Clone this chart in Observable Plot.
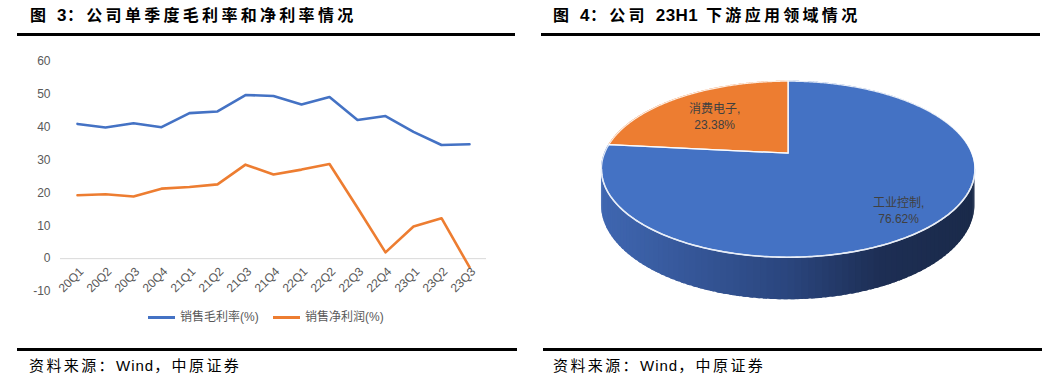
<!DOCTYPE html>
<html><head><meta charset="utf-8">
<script src="https://cdn.jsdelivr.net/npm/d3@7"></script>
<script src="https://cdn.jsdelivr.net/npm/@observablehq/plot@0.6"></script>
<style>
body{margin:0;background:#fff;width:1064px;height:378px;overflow:hidden;position:relative;font-family:"Liberation Sans","Noto Sans CJK SC",sans-serif;}
.title{position:absolute;top:6px;font-size:16px;font-weight:bold;line-height:20px;letter-spacing:3.3px;color:#000;white-space:nowrap;}
.title .lat{letter-spacing:0.5px;font-size:17px;}
.rule{position:absolute;height:2.5px;background:#000;}
.src{position:absolute;top:357px;font-size:15px;line-height:18px;letter-spacing:2.4px;color:#000;white-space:nowrap;}
.src .lat{letter-spacing:1px;}
#line{position:absolute;left:0;top:45px;}
#pie{position:absolute;left:532px;top:40px;}
.legend{position:absolute;top:309px;font-size:12px;line-height:16px;color:#595959;white-space:nowrap;}
.sw{position:absolute;top:7px;width:27px;height:3px;}
</style></head>
<body>
<div class="title" style="left:30px">图 <span class="lat">3</span>：公司单季度毛利率和净利率情况</div>
<div class="rule" style="left:17px;width:498px;top:33px"></div>
<div class="title" style="left:553px">图 <span class="lat">4</span>：公司 <span class="lat">23H1</span> 下游应用领域情况</div>
<div class="rule" style="left:541px;width:499px;top:33px"></div>
<div id="line"></div>
<div id="legend"></div>
<div id="pie"></div>
<div class="rule" style="left:17px;width:500px;top:348px"></div>
<div class="rule" style="left:543px;width:499px;top:348px"></div>
<div class="src" style="left:29px">资料来源：<span class="lat">Wind</span>，中原证券</div>
<div class="src" style="left:553px">资料来源：<span class="lat">Wind</span>，中原证券</div>
<script>
// ---- data ----
const quarters = ["20Q1","20Q2","20Q3","20Q4","21Q1","21Q2","21Q3","21Q4","22Q1","22Q2","22Q3","22Q4","23Q1","23Q2","23Q3"];
const grossMargin = [41.0,39.9,41.2,40.0,44.3,44.8,49.8,49.5,46.9,49.2,42.2,43.4,38.6,34.6,34.8];
const netMargin = [19.3,19.6,18.9,21.3,21.8,22.6,28.6,25.6,27.1,28.8,15.5,1.9,9.8,12.3,-2.6];
const yTicks = [-10,0,10,20,30,40,50,60];
const seriesNames = ["销售毛利率(%)","销售净利润(%)"];
const seriesColors = ["#4472C4","#ED7D31"];
const pieNames = ["工业控制","消费电子"];
const pieValues = [76.62, 23.38];
const pieColors = ["#4472C4","#ED7D31"];

// ---- line chart ----
const lineData = [];
quarters.forEach((q,i)=>{
  lineData.push({q, s: seriesNames[0], v: grossMargin[i]});
  lineData.push({q, s: seriesNames[1], v: netMargin[i]});
});
const lineChart = Plot.plot({
  width: 532, height: 260,
  marginLeft: 60, marginRight: 46, marginTop: 16, marginBottom: 14,
  style: {fontFamily: '"Liberation Sans","Noto Sans CJK SC",sans-serif', fontSize: "12px", color: "#595959", background: "transparent"},
  x: {type: "point", domain: quarters, padding: 0.455, axis: null},
  y: {domain: [-10, 60], ticks: yTicks, tickSize: 0, tickPadding: 10, label: null, tickFormat: d => String(d)},
  color: {domain: seriesNames, range: seriesColors},
  marks: [
    Plot.ruleY([0], {stroke: "#d9d9d9", strokeWidth: 1}),
    Plot.line(lineData, {x: "q", y: "v", z: "s", stroke: "s", strokeWidth: 2.6, strokeLinejoin: "round", strokeLinecap: "round"}),
    Plot.text(quarters, {x: d => d, y: () => 0, text: d => d, rotate: -45, textAnchor: "end", dx: 4, dy: 11, fill: "#595959", fontSize: 12})
  ]
});
document.getElementById("line").appendChild(lineChart);

// legend
const lg = document.getElementById("legend");
const legendX = [[148,180],[273,305]];
seriesNames.forEach((n,i)=>{
  const d = document.createElement("div");
  d.className = "legend";
  d.style.left = legendX[i][0] + "px";
  d.innerHTML = `<span class="sw" style="left:0;background:${seriesColors[i]}"></span><span style="position:absolute;left:${legendX[i][1]-legendX[i][0]}px">${n}</span>`;
  lg.appendChild(d);
});

// ---- 3D pie ----
const A = 0.182;      // perspective strength
const DEPTH = 0.409;  // thickness in y units
function proj(r, phi, drop){
  const u = r*Math.sin(phi), v = -r*Math.cos(phi);
  const k = 1/(1 - A*v);
  return {X: u*k, Y: (v + (drop||0))*k};
}
const arcs = d3.pie().sort(null)(pieValues);
const step = Math.PI/360;
// top face wedges
const wedges = [];
const outlines = [];
arcs.forEach((a,i)=>{
  outlines.push({slice: i, X: 0, Y: 0});
  for (let p = a.startAngle; p <= a.endAngle + 1e-9; p += step) {
    const pt = proj(1, Math.min(p, a.endAngle));
    wedges.push({slice: i, x1: 0, y1: 0, x2: pt.X, y2: pt.Y});
    outlines.push({slice: i, X: pt.X, Y: pt.Y});
  }
  const e = proj(1, a.endAngle);
  wedges.push({slice: i, x1: 0, y1: 0, x2: e.X, y2: e.Y});
  outlines.push({slice: i, X: e.X, Y: e.Y});
  outlines.push({slice: i, X: 0, Y: 0});
});
// side strips (front half), each overlapping the next to avoid seams
const phiR = Math.acos(-A), phiL = 2*Math.PI - phiR;
const sideColor = d3.scaleLinear().domain([-1, 0, 0.5, 1]).range(["#3f66b0","#2a457d","#1d2e54","#1a2a4a"]);
const side = [];
const N = 90;
for (let j = 0; j < N; j++) {
  const p0 = phiR + (phiL - phiR)*j/N;
  const p1 = Math.min(phiL, phiR + (phiL - phiR)*(j+1.6)/N);
  const c = sideColor(proj(1, (p0 + p1)/2).X);
  for (let s = 0; s <= 4; s++) {
    const p = p0 + (p1 - p0)*s/4;
    const t = proj(1, p), b = proj(1, p, DEPTH);
    side.push({j, x: t.X, y1: t.Y, y2: b.Y, c});
  }
}
const frontEdge = [];
for (let j = 0; j <= 200; j++) {
  frontEdge.push(proj(1, phiR + (phiL - phiR)*j/200));
}
// labels
const labelR = [0.8, 0.65];
const labels = arcs.map((a,i)=>{
  const mid = (a.startAngle + a.endAngle)/2;
  const pt = proj(labelR[i], mid);
  return {X: pt.X, Y: pt.Y, t: `${pieNames[i]},\n${pieValues[i].toFixed(2)}%`};
});

const pie = Plot.plot({
  width: 532, height: 300, margin: 0,
  style: {fontFamily: '"Liberation Sans","Noto Sans CJK SC",sans-serif', background: "transparent"},
  x: {domain: [-1, 1], range: [72.1, 439.3], axis: null},
  y: {domain: [-1, 1], range: [27.6, 197.8], axis: null},
  marks: [
    Plot.areaY(side, {x: "x", y1: "y1", y2: "y2", z: "j", fill: "c"}),
    Plot.area(wedges, {x1: "x1", y1: "y1", x2: "x2", y2: "y2", z: "slice", fill: d => pieColors[d.slice]}),
    Plot.line(outlines, {x: "X", y: "Y", z: "slice", stroke: "#ffffff", strokeWidth: 1.2, strokeOpacity: 0.85}),
    Plot.line(frontEdge, {x: "X", y: "Y", stroke: "#e8eef8", strokeWidth: 1.6}),
    Plot.text(labels, {x: "X", y: "Y", text: "t", fontSize: 12, fill: "#404040", lineHeight: 1.35})
  ]
});
document.getElementById("pie").appendChild(pie);
</script>
</body></html>
